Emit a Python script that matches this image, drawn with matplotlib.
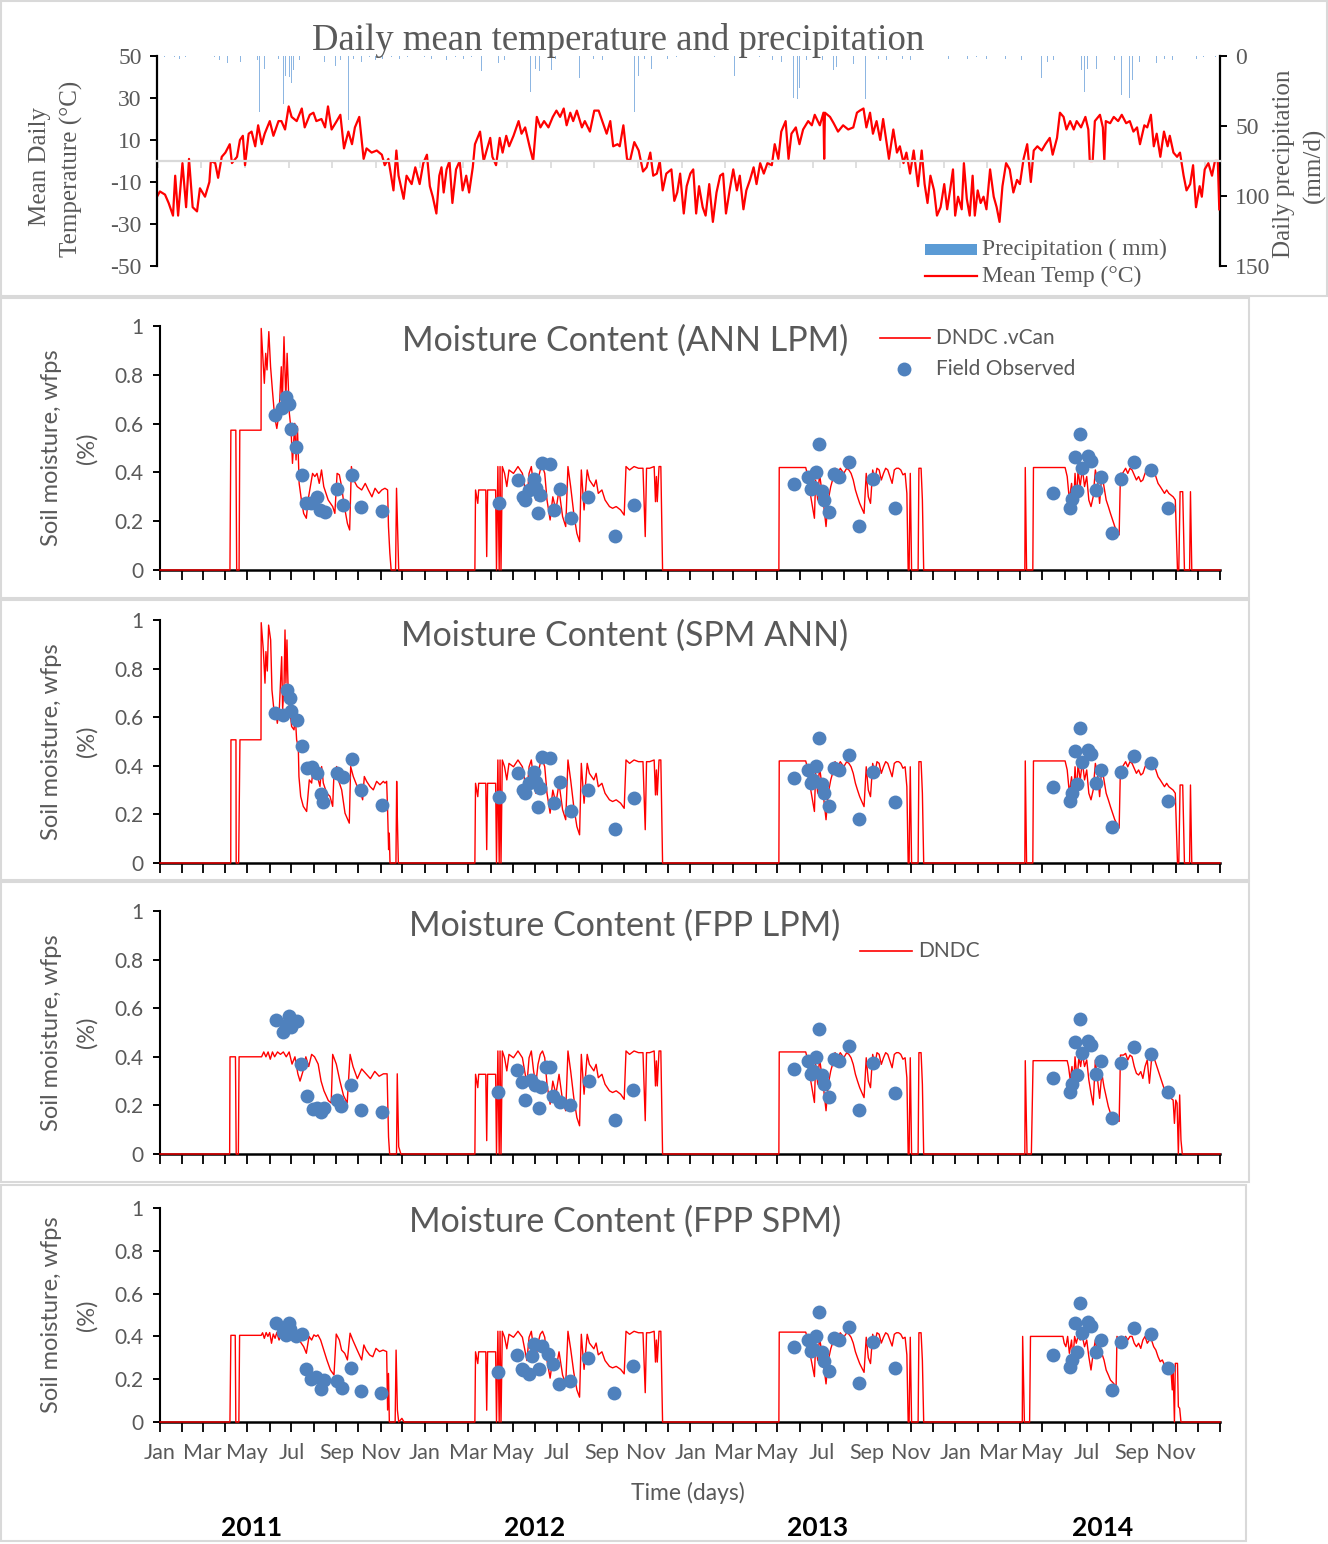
import numpy as np
import matplotlib.pyplot as plt
from matplotlib.patches import Rectangle
from matplotlib.lines import Line2D

plt.rcParams['font.family'] = ['Lato', 'DejaVu Sans']
SERIF = ['Liberation Serif', 'DejaVu Serif']
GREY = '#595959'
RED = '#FF0000'
BLUE = '#4F81BD'
W, H = 1328, 1544

# ---------------- data (days counted from 1 Jan 2011) ----------------
temp_day = [0, 4, 11, 16, 22, 25, 29, 35, 40, 44, 49, 55, 59, 66, 72, 74, 80, 84, 89, 94,
            100, 103, 110, 114, 118, 121, 126, 130, 135, 139, 144, 148, 155, 160, 167, 171, 176, 181, 185, 192,
            199, 203, 210, 215, 219, 226, 231, 235, 240, 247, 252, 257, 263, 268, 272, 278, 284, 288, 295, 302,
            309, 313, 318, 325, 329, 332, 339, 343, 350, 355, 361,
            366, 371, 375, 379, 384, 388, 391, 394, 398, 402, 406, 411, 416, 420, 425, 429, 434, 437, 444, 449,
            453, 458, 461, 466, 471, 475, 480, 484, 490, 497, 501, 506, 512, 517, 522, 527, 532, 538, 544, 549,
            554, 559, 563, 568, 572, 577, 584, 588, 595, 601, 607, 613, 618, 623, 627, 633, 636, 641, 646, 650,
            656, 662, 668, 673, 678, 682, 687, 691, 695, 700, 707, 711, 715, 719, 724, 728,
            733, 737, 741, 745, 750, 754, 759, 764, 769, 774, 778, 782, 787, 792, 797, 801, 806, 810, 815, 820,
            824, 829, 834, 839, 845, 849, 854, 858, 864, 868, 872, 878, 883, 888, 895, 900, 904, 911, 916, 917,
            918, 925, 930, 936, 943, 950, 957, 962, 966, 971, 975, 980, 984, 989, 994, 998, 1003, 1006, 1012, 1017,
            1021, 1026, 1030, 1035, 1040, 1046, 1051, 1055, 1059, 1063, 1068, 1072, 1077, 1082, 1086,
            1090, 1094, 1097, 1101, 1106, 1109, 1113, 1117, 1121, 1124, 1128, 1132, 1136, 1140, 1145, 1150, 1154, 1158, 1162, 1167,
            1172, 1177, 1182, 1186, 1191, 1196, 1201, 1205, 1210, 1216, 1221, 1227, 1231, 1237, 1241, 1246, 1250, 1255, 1260, 1264,
            1270, 1276, 1280, 1282, 1286, 1289, 1296, 1300, 1302, 1304, 1310, 1315, 1321, 1326, 1332, 1337, 1342, 1347, 1351, 1357,
            1361, 1366, 1370, 1374, 1379, 1384, 1389, 1392, 1397, 1402, 1406, 1411, 1415, 1420, 1424, 1428, 1433, 1436, 1440, 1445,
            1450, 1454, 1458, 1460]
temp_val = [-17, -14.5, -16, -20, -26, -7, -26, -1, -22, 1, -22, -24, -13, -17, -10, 0, -1, -8, 2, 4,
            8, -1, 2, 10, 12, -2, 13, 14, 7, 17, 8, 13, 19, 12, 19, 19, 15, 26, 21, 19,
            25, 16, 22, 23, 19, 20, 16, 26, 15, 19, 22, 6, 14, 8, 16, 21, 1, 6, 4, 5,
            3, -2, 1, -14, 5, -7, -18, -7, -11, -3, -11,
            -1, 3, -12, -17, -25, -7, -3, -15, -4, 0, -20, -4, 0, -14, -7, -15, -3, 8, 14, 0,
            5, 11, 2, -2, 11, 4, 12, 7, 12, 19, 13, 16, 7, 0, 21, 16, 19, 16, 21, 24,
            21, 25, 17, 23, 19, 24, 16, 19, 14, 24, 24, 18, 13, 19, 7, 8, 7, 17, 1, 0,
            9, 5, -5, -3, 4, -7, -6, 0, -14, -6, -4, -19, -15, -6, -25, -12,
            -6, -4, -25, -12, -22, -26, -11, -29, -15, -7, -6, -25, -14, -4, -14, -7, -23, -14, -9, -3,
            -11, -1, -6, -1, -2, 8, 1, 14, 19, 1, 13, 16, 8, 15, 19, 17, 22, 17, 23, 1,
            23, 21, 18, 14, 17, 15, 16, 23, 24, 25, 16, 23, 13, 19, 10, 20, 8, 1, 15, 4,
            7, -1, 4, -6, 5, -12, 5, -11, -20, -7, -14, -26, -22, -11, -23,
            -14, -4, -26, -17, -23, -1, -18, -26, -7, -26, -14, -20, -17, -23, -4, -17, -22, -29, -12, -1,
            -4, -15, -9, -11, 1, 8, -10, 5, 7, 5, 8, 11, 3, 11, 23, 21, 15, 19, 15, 19,
            16, 21, 15, 0, 0, 19, 22, 16, 0, 19, 18, 21, 19, 22, 18, 19, 14, 16, 8, 17,
            16, 22, 7, 13, 2, 14, 7, 12, 4, 2, 4, -7, -14, -11, -2, -22, -12, -17, -4, -1,
            -7, 0, 0, -23]

rain_day = [92, 97, 103, 110, 121, 128, 132, 141, 148, 151, 158, 162, 174, 177, 182, 185, 188, 245, 263,
            446, 451, 469, 474, 485, 499, 506, 513, 520, 526, 533, 542, 554, 572, 581, 591, 646, 656, 662, 680,
            778, 794, 870, 875, 880, 883, 907, 925, 930, 934, 947, 957, 974, 984, 1017, 1053,
            1200, 1211, 1216, 1241, 1255, 1263, 1266, 1271, 1275, 1279, 1291, 1300, 1326, 1329, 1333, 1337,
            1341, 1344, 1358, 1374, 1429]
rain_mm = [17, 5, 6, 5, 5, 15, 6, 40, 9, 12, 6, 8, 34, 14, 15, 19, 10, 7, 46,
           11, 6, 5, 6, 8, 5, 8, 26, 9, 11, 30, 10, 6, 9, 16, 8, 9, 40, 14, 9,
           4, 14, 24, 30, 31, 23, 29, 9, 10, 8, 18, 6, 31, 8, 5, 4,
           5, 9, 16, 6, 6, 22, 12, 10, 26, 9, 9, 8, 28, 14, 24, 30,
           17, 8, 6, 5, 2]
drizzle_day = [3, 10, 18, 24, 31, 39, 47, 55, 63, 70, 79, 86, 115, 138, 167, 196, 205, 213, 221, 230,
               238, 252, 270, 281, 292, 300, 310, 322, 333, 344, 352, 368, 377, 389, 398, 410, 421, 432, 440, 459,
               478, 492, 510, 529, 548, 562, 587, 600, 612, 624, 635, 670, 690, 702, 714, 727, 741, 752, 766, 785,
               803, 815, 828, 846, 858, 893, 899, 915, 940, 965, 992, 1003, 1025, 1036, 1046, 1064, 1075, 1088, 1102, 1114,
               1126, 1140, 1152, 1166, 1178, 1188, 1224, 1232, 1248, 1285, 1307, 1316, 1350, 1365, 1385, 1396, 1410, 1438, 1447, 1455]
drizzle_mm = [2, 1, 3, 1, 2, 1, 2, 3, 1, 2, 1, 3, 4, 3, 2, 3, 4, 2, 3, 4,
              2, 3, 2, 4, 1, 3, 2, 1, 2, 1, 2, 1, 2, 1, 3, 1, 2, 1, 3, 4,
              3, 4, 4, 3, 2, 4, 3, 2, 3, 2, 3, 2, 1, 2, 1, 2, 1, 2, 1, 2,
              1, 2, 1, 3, 4, 3, 4, 3, 4, 3, 2, 3, 2, 3, 1, 2, 1, 2, 1, 2,
              1, 2, 1, 2, 1, 3, 4, 3, 4, 3, 4, 3, 4, 3, 2, 3, 2, 1, 2, 1]

# simulated WFPS, season 2011, one series per model
sim11_ann_lpm_day = [0, 96.4, 97.7, 104.5, 105.7, 109, 110, 139.3, 139.5, 143.8, 145.7, 147.5, 150, 152.4, 154.9, 158, 161, 164.1,
                     167.2, 168.4, 170.9, 173.4, 175.2, 178.3, 180.7, 182.6, 185.7, 187.5, 189.4, 191.8, 194.9, 198, 201.7,
                     204.1, 207.2, 210.3, 213.4, 216.4, 219.5, 222.6, 225.7, 231.8, 238, 241, 244.1, 247.2, 250.3, 253.4,
                     258.3, 261.4, 263.8, 266.9, 271.8, 278, 282.9, 287.2, 292.1, 296.4, 301.4, 305.7, 310, 313.7, 314.9,
                     316.8, 318.6, 324.7, 326, 327.2, 329]
sim11_ann_lpm_val = [0, 0, 0.573, 0.573, 0, 0, 0.573, 0.573, 0.99, 0.765, 0.888, 0.82, 0.977, 0.833, 0.738, 0.628, 0.58, 0.642,
                     0.833, 0.656, 0.956, 0.697, 0.888, 0.642, 0.573, 0.437, 0.601, 0.451, 0.587, 0.355, 0.287, 0.232, 0.212,
                     0.287, 0.342, 0.396, 0.383, 0.396, 0.355, 0.41, 0.342, 0.287, 0.26, 0.232, 0.396, 0.39, 0.342, 0.273,
                     0.191, 0.164, 0.424, 0.369, 0.342, 0.328, 0.355, 0.328, 0.3, 0.335, 0.314, 0.328, 0.335, 0.328, 0.178,
                     0.069, 0, 0, 0.335, 0.205, 0]
sim11_spm_ann_day = [0, 97.5, 97.8, 104.7, 105, 108.4, 110.2, 139.2, 139.5, 142.4, 144.7, 146, 147.9, 149.7, 152.5, 154.3, 157,
                     159.9, 161.7, 164.4, 167.7, 169, 170.9, 172.3, 173.6, 175, 176.9, 179.1, 181.4, 184.7, 186.5, 188.3,
                     190.6, 191.5, 193.9, 197.5, 202.1, 205.8, 209, 211.3, 213.6, 215.9, 218.2, 220.5, 222.8, 225.1, 229.7,
                     234.3, 238, 239.8, 243.5, 245.8, 250.4, 255, 260.9, 262.8, 266.4, 271, 275.6, 279.3, 281.6, 284.8,
                     289.4, 294, 298.6, 303.2, 307.8, 310.1, 312.4, 313.8, 315.1, 316, 317, 325.2, 326.2, 327.1, 328.5]
sim11_spm_ann_val = [0, 0, 0.507, 0.507, 0, 0, 0.507, 0.507, 0.989, 0.877, 0.74, 0.87, 0.79, 0.979, 0.918, 0.712, 0.63,
                     0.616, 0.575, 0.63, 0.849, 0.63, 0.726, 0.959, 0.74, 0.918, 0.671, 0.63, 0.562, 0.548, 0.603, 0.507,
                     0.479, 0.356, 0.274, 0.233, 0.212, 0.342, 0.329, 0.397, 0.37, 0.384, 0.342, 0.315, 0.397, 0.329, 0.288,
                     0.274, 0.233, 0.37, 0.397, 0.342, 0.301, 0.205, 0.164, 0.397, 0.356, 0.321, 0.301, 0.26, 0.356, 0.336,
                     0.315, 0.301, 0.336, 0.322, 0.336, 0.329, 0.336, 0.205, 0.055, 0.123, 0, 0, 0.336, 0.192, 0]
sim11_fpp_lpm_day = [0, 96, 96.5, 104, 105, 108, 109, 140, 143, 146, 149, 152, 155, 158, 162, 166, 170, 174, 178, 182,
                     186, 190, 193, 197, 201, 205, 209, 213, 218, 222, 226, 232, 236, 238, 243, 248, 253, 258, 262, 266,
                     272, 278, 284, 290, 296, 302, 308, 313, 315, 316.5, 326, 327, 329, 332]
sim11_fpp_lpm_val = [0, 0, 0.40, 0.40, 0, 0, 0.40, 0.40, 0.42, 0.40, 0.42, 0.39, 0.42, 0.40, 0.42, 0.41, 0.42, 0.40, 0.42, 0.37,
                     0.40, 0.33, 0.30, 0.34, 0.40, 0.36, 0.41, 0.40, 0.37, 0.30, 0.26, 0.22, 0.21, 0.41, 0.37, 0.30, 0.24, 0.21, 0.41, 0.36,
                     0.31, 0.35, 0.33, 0.31, 0.34, 0.32, 0.33, 0.33, 0.07, 0, 0, 0.33, 0.03, 0]
sim11_fpp_spm_day = [0, 96.4, 97.7, 103.7, 104.5, 108.7, 109.7, 139.5, 141.4, 143.8, 146.3, 148.7, 151.2, 153.7, 156.1, 158.6,
                     161, 164.1, 167.2, 173.4, 179.5, 185.7, 191.8, 198, 201.7, 205.4, 209, 212.1, 215.2, 217.7, 221.4, 225.7,
                     230, 234.9, 239.8, 242.9, 247.2, 250.3, 254.6, 258.3, 262, 265.7, 271.8, 278, 281, 284.1, 289, 293.3,
                     297.7, 302.6, 307.5, 312.4, 313.7, 314.9, 316.1, 324.1, 325.4, 327.2, 329, 333.4, 336.4]
sim11_fpp_spm_val = [0, 0, 0.405, 0.405, 0, 0, 0.405, 0.405, 0.417, 0.391, 0.418, 0.4, 0.418, 0.368, 0.411, 0.391,
                     0.418, 0.383, 0.411, 0.407, 0.4, 0.4, 0.383, 0.352, 0.321, 0.4, 0.383, 0.407, 0.4, 0.407, 0.383, 0.336,
                     0.29, 0.243, 0.22, 0.411, 0.383, 0.336, 0.321, 0.29, 0.415, 0.383, 0.336, 0.29, 0.36, 0.336, 0.313, 0.305,
                     0.344, 0.329, 0.336, 0.329, 0.056, 0.227, 0, 0, 0.336, 0.056, 0, 0.017, 0]

# seasons 2012 and 2013 (same in all four runs)
sim12_day = [434, 434.9, 438, 439.2, 449, 450.3, 451.5, 462.6, 463.8, 465.7, 467.5, 468.7, 470, 471.8, 474.9, 478, 481,
             487.2, 493.4, 499.5, 505.7, 508.7, 511.8, 514.9, 518, 521, 524.1, 527.2, 530.3, 533.4, 537.7, 541.4, 545.7,
             550, 554.9, 559.2, 562.3, 566, 570.3, 574.6, 578.3, 580.7, 584.5, 588.8, 591.8, 598, 601.1, 604.1, 609.1,
             613.4, 619.5, 623.8, 628.8, 634.9, 639.8, 642.3, 647.2, 653.4, 659.5, 665.7, 668.8, 670.6, 674.9, 681.1,
             682.9, 684.2, 685.4, 687.8, 690.3, 692.7]
sim12_val = [0, 0.328, 0.273, 0.328, 0.328, 0.055, 0.328, 0.328, 0, 0.424, 0, 0.424, 0, 0.424, 0.396, 0.342, 0.41,
             0.396, 0.424, 0.396, 0.287, 0.396, 0.424, 0.342, 0.287, 0.369, 0.41, 0.424, 0.396, 0.287, 0.205, 0.3, 0.246,
             0.328, 0.219, 0.178, 0.424, 0.342, 0.232, 0.15, 0.116, 0.41, 0.246, 0.41, 0.369, 0.342, 0.369, 0.314, 0.328,
             0.287, 0.26, 0.253, 0.26, 0.246, 0.225, 0.424, 0.41, 0.424, 0.417, 0.417, 0.137, 0.417, 0.417, 0.424,
             0.28, 0.383, 0.28, 0.424, 0.424, 0]
sim13_day = [853, 853.5, 890, 893, 897, 902, 903.6, 906.6, 909, 912.6, 915, 918, 921, 924.5, 927, 930.4, 934.6, 937.6,
             942.4, 946.5, 949.5, 952.5, 955.5, 958.5, 961.4, 964.4, 967.4, 970.4, 973.4, 976.3, 979.3, 982.3, 985.3,
             988.2, 991.2, 994.2, 997.2, 1000.2, 1003.1, 1006.1, 1009.1, 1012.1, 1015.1, 1018, 1021, 1024, 1027, 1029.4,
             1031.2, 1032.5, 1034.1, 1035.9, 1044.9, 1046, 1049, 1050.8, 1052.6]
sim13_val = [0, 0.42, 0.42, 0.383, 0.3, 0.212, 0.369, 0.287, 0.396, 0.314, 0.26, 0.178, 0.287, 0.342, 0.369, 0.417, 0.396,
             0.417, 0.396, 0.417, 0.41, 0.396, 0.369, 0.328, 0.3, 0.273, 0.253, 0.232, 0.396, 0.3, 0.273, 0.41, 0.369,
             0.417, 0.41, 0.369, 0.396, 0.417, 0.41, 0.383, 0.355, 0.41, 0.417, 0.417, 0.41, 0.39, 0.396, 0.314,
             0, 0, 0.396, 0, 0, 0.417, 0.417, 0.287, 0]

# season 2014
sim14_ann_day = [1192, 1192.6, 1194.4, 1203, 1203.9, 1247.5, 1250.4, 1253.4, 1256.4, 1259.4, 1261.2, 1263.6, 1265.3, 1268.3,
                 1271.3, 1274.3, 1277.3, 1280.2, 1283.2, 1286.2, 1289.2, 1292.2, 1295.1, 1298.1, 1301.1, 1304.1, 1307.1,
                 1310, 1313, 1316, 1322, 1323.8, 1326.7, 1330.9, 1333.9, 1336.9, 1339.8, 1342.8, 1345.8, 1348.8, 1351.8,
                 1354.7, 1357.7, 1360.7, 1363.7, 1366.6, 1369.6, 1372.6, 1375.6, 1378.6, 1381.5, 1384.5, 1387.5, 1390.5,
                 1393.5, 1396.4, 1399.4, 1402.4, 1404.2, 1406, 1409.6, 1412, 1419.1, 1420.3, 1422.1, 1461]
sim14_ann_val = [0, 0.42, 0, 0, 0.42, 0.42, 0.383, 0.287, 0.355, 0.273, 0.396, 0.287, 0.41, 0.342,
                 0.417, 0.342, 0.383, 0.287, 0.26, 0.3, 0.41, 0.369, 0.273, 0.396, 0.342, 0.287, 0.26,
                 0.232, 0.205, 0.178, 0.144, 0.396, 0.396, 0.417, 0.396, 0.417, 0.41, 0.39, 0.369, 0.383, 0.362,
                 0.369, 0.396, 0.417, 0.41, 0.396, 0.41, 0.383, 0.355, 0.342, 0.328, 0.314, 0.328, 0.314,
                 0.307, 0.3, 0.287, 0, 0, 0.321, 0.321, 0, 0, 0.321, 0, 0]
sim14_fpp_lpm_day = [1192, 1192.6, 1195, 1201, 1203.4, 1250.4, 1252.2, 1254.6, 1257, 1259.4, 1261.2, 1264.1, 1266.5, 1268.9,
                     1271.3, 1274.3, 1277.3, 1280.2, 1283.2, 1286.2, 1289.2, 1292.2, 1295.1, 1298.1, 1301.1, 1304.1, 1307.1,
                     1310, 1316, 1322, 1323.8, 1327.9, 1330.9, 1333.9, 1336.9, 1339.8, 1342.8, 1345.8, 1348.8, 1351.8,
                     1354.7, 1357.7, 1360.7, 1363.7, 1366.6, 1369.6, 1372.6, 1375.6, 1378.6, 1381.5, 1384.5, 1387.5,
                     1390.5, 1393.5, 1396.4, 1398.2, 1400, 1401.8, 1403.6, 1405.4, 1407.2, 1409, 1461]
sim14_fpp_lpm_val = [0, 0.384, 0, 0, 0.384, 0.384, 0.36, 0.305, 0.36, 0.291, 0.4, 0.305, 0.4, 0.36,
                     0.414, 0.36, 0.387, 0.305, 0.25, 0.202, 0.387, 0.305, 0.229, 0.332, 0.277, 0.236, 0.195,
                     0.168, 0.147, 0.134, 0.407, 0.407, 0.414, 0.387, 0.407, 0.4, 0.36, 0.332, 0.325, 0.339,
                     0.311, 0.36, 0.387, 0.291, 0.387, 0.4, 0.373, 0.346, 0.318, 0.291, 0.264, 0.25,
                     0.236, 0.229, 0.222, 0.126, 0.222, 0.209, 0, 0.243, 0.058, 0, 0]
sim14_fpp_spm_day = [1188.5, 1189, 1191.4, 1198.6, 1199.8, 1244.5, 1246.3, 1248.6, 1251, 1253.4, 1256.4, 1258.2, 1260.6,
                     1262.9, 1265.3, 1268.3, 1271.3, 1274.3, 1277.3, 1280.2, 1283.2, 1286.2, 1289.2, 1292.2, 1295.1, 1298.1,
                     1301.1, 1304.1, 1307.1, 1310, 1314.2, 1317.8, 1319, 1322, 1325, 1327.9, 1330.9, 1333.9, 1336.9, 1339.8,
                     1342.8, 1345.8, 1348.8, 1351.8, 1354.7, 1357.7, 1360.7, 1363.7, 1366.6, 1369.6, 1372.6, 1375.6, 1378.6,
                     1381.5, 1384.5, 1387.5, 1390.5, 1393.5, 1395.2, 1396.4, 1398.2, 1399.4, 1402.4, 1403.6, 1405.4, 1407.2, 1461]
sim14_fpp_spm_val = [0, 0.4, 0, 0, 0.4, 0.4, 0.368, 0.352, 0.4, 0.321, 0.383, 0.29, 0.4,
                     0.368, 0.4, 0.383, 0.4, 0.352, 0.383, 0.305, 0.243, 0.321, 0.383, 0.321, 0.368, 0.321,
                     0.29, 0.243, 0.22, 0.196, 0.181, 0.165, 0.4, 0.383, 0.4, 0.352, 0.4, 0.383, 0.4, 0.4,
                     0.368, 0.352, 0.368, 0.344, 0.383, 0.4, 0.368, 0.383, 0.383, 0.352, 0.336, 0.305, 0.282,
                     0.29, 0.266, 0.259, 0.251, 0.235, 0.15, 0.243, 0, 0.274, 0.274, 0.072, 0.064, 0, 0]

# field observations
obs11_ann_lpm_day = [159, 168, 173, 178, 180, 188, 196, 201, 208, 216, 221, 227, 244, 252, 264, 277, 306]
obs11_ann_lpm_val = [0.635, 0.662, 0.707, 0.68, 0.576, 0.503, 0.39, 0.273, 0.276, 0.298, 0.246, 0.236, 0.332, 0.266, 0.39, 0.26, 0.243]
obs11_spm_ann_day = [158.5, 170, 174.6, 179.1, 180.5, 188.3, 195.2, 202.1, 209.9, 215.9, 221.9, 225.1, 243.5, 251.7, 264.1, 277, 306.4]
obs11_spm_ann_val = [0.616, 0.61, 0.71, 0.678, 0.627, 0.589, 0.482, 0.39, 0.397, 0.37, 0.284, 0.253, 0.37, 0.353, 0.427, 0.299, 0.24]
obs11_fpp_lpm_day = [160, 170, 174, 178, 181, 189, 194, 203, 211, 216, 222, 226, 244, 250, 263, 277, 306]
obs11_fpp_lpm_val = [0.551, 0.502, 0.531, 0.568, 0.523, 0.547, 0.37, 0.239, 0.185, 0.189, 0.173, 0.189, 0.222, 0.198, 0.284, 0.181, 0.173]
obs11_fpp_spm_day = [159.2, 169, 173.4, 178.3, 179.5, 187.5, 195.5, 201.7, 208.4, 215.2, 221.4, 226.3, 244.1, 250.9, 263.8, 276.7, 304.4]
obs11_fpp_spm_val = [0.461, 0.422, 0.407, 0.464, 0.433, 0.4, 0.411, 0.25, 0.2, 0.208, 0.152, 0.196, 0.192, 0.16, 0.254, 0.146, 0.137]
obs12_ann_day = [466.9, 493.4, 500.8, 502.6, 508.7, 514.9, 518, 521, 524.1, 527.2, 537.7, 542.6, 551.8, 566, 590.6, 627.5, 653.4]
obs12_ann_val = [0.273, 0.369, 0.3, 0.287, 0.328, 0.375, 0.335, 0.232, 0.307, 0.437, 0.434, 0.246, 0.332, 0.214, 0.3, 0.139, 0.266]
obs12_fpp_lpm_day = [466, 492, 499, 503, 511, 517, 522, 525, 532, 538, 542, 551, 565, 591, 627, 652]
obs12_fpp_lpm_val = [0.255, 0.346, 0.296, 0.222, 0.305, 0.284, 0.189, 0.276, 0.358, 0.358, 0.239, 0.214, 0.202, 0.3, 0.14, 0.263]
obs12_fpp_spm_day = [465.7, 491.5, 498.3, 500.8, 508.7, 513, 514.9, 522.3, 526, 535.2, 541.4, 550, 564.8, 589.4, 626.3, 652.1]
obs12_fpp_spm_val = [0.233, 0.313, 0.25, 0.243, 0.224, 0.308, 0.364, 0.249, 0.355, 0.318, 0.271, 0.179, 0.192, 0.297, 0.137, 0.262]
obs13_day = [873.8, 892.9, 897.1, 900.6, 904.8, 907.8, 912.6, 915.5, 921.5, 928.7, 936.4, 949.5, 963.2, 982.3, 1012.7]
obs13_val = [0.351, 0.383, 0.331, 0.342, 0.4, 0.516, 0.325, 0.287, 0.236, 0.393, 0.383, 0.444, 0.182, 0.373, 0.253]
obs14_day = [1230.2, 1254.6, 1257.6, 1261.8, 1264.1, 1268.3, 1271.3, 1278.4, 1283.8, 1290.4, 1296.9, 1312.4, 1324.3, 1342.8, 1366, 1389.9]
obs14_val = [0.314, 0.256, 0.289, 0.462, 0.325, 0.556, 0.417, 0.467, 0.448, 0.328, 0.383, 0.15, 0.373, 0.441, 0.411, 0.254]

month_names = ['Jan', 'Feb', 'Mar', 'Apr', 'May', 'Jun', 'Jul', 'Aug', 'Sep', 'Oct', 'Nov', 'Dec']
years = ['2011', '2012', '2013', '2014']


def fx(px):
    return px / W


def fy(py):
    return 1 - py / H


fig = plt.figure(figsize=(W / 100, H / 100), dpi=100)

# grey frames around the five charts
for x0, y0, x1, y1 in [(1, 1, 1327, 296), (1, 298, 1249, 598), (1, 600, 1249, 880),
                       (1, 882, 1249, 1182), (1, 1185, 1246, 1541)]:
    fig.add_artist(Rectangle((fx(x0), fy(y1)), fx(x1) - fx(x0), fy(y0) - fy(y1),
                             transform=fig.transFigure, fill=False, ec='#D9D9D9', lw=1.5))

# ---------------- top chart: temperature + precipitation ----------------
ax = fig.add_axes([fx(157), fy(266), (1220 - 157) / W, 210 / H])
ax2 = ax.twinx()
ax2.bar(rain_day + drizzle_day, rain_mm + drizzle_mm, width=0.8, color='#8DB6E2', lw=0)
ax2.set_ylim(150, 0)
ax.plot(temp_day, temp_val, color=RED, lw=1.6)
ax.set_zorder(ax2.get_zorder() + 1)
ax.patch.set_visible(False)
ax.set_xlim(0, 1461)
ax.set_ylim(-50, 50)
ax2.set_xlim(0, 1461)

ax.set_yticks([50, 30, 10, -10, -30, -50], labels=['50', '30', '10', '-10', '-30', '-50'],
              family=SERIF, fontsize=17, color=GREY)
ax2.set_yticks([0, 50, 100, 150], labels=['0', '50', '100', '150'], family=SERIF, fontsize=17, color=GREY)
for s in ['top', 'right']:
    ax.spines[s].set_visible(False)
for s in ['top', 'left', 'bottom']:
    ax2.spines[s].set_visible(False)
ax.spines['left'].set_linewidth(1.6)
ax2.spines['right'].set_linewidth(1.6)
ax.spines['bottom'].set_position(('data', 0))
ax.spines['bottom'].set_color('#D9D9D9')
ax.spines['bottom'].set_linewidth(1.6)
ax.set_xticks(np.arange(1, 1461, 60), labels=[])
ax.tick_params(axis='x', colors='#D9D9D9', length=5, width=1.2)
ax.tick_params(axis='y', length=5, width=1.4, pad=6)
ax2.tick_params(axis='y', length=5, width=1.4, pad=6)

fig.text(fx(618), fy(40), 'Daily mean temperature and precipitation', family=SERIF, size=26.5,
         color=GREY, ha='center', va='center')
fig.text(fx(40), fy(167), 'Mean Daily', family=SERIF, size=18, color=GREY, rotation=90,
         ha='center', va='center')
fig.text(fx(71), fy(169), 'Temperature (°C)', family=SERIF, size=18, color=GREY, rotation=90,
         ha='center', va='center')
fig.text(fx(1284), fy(164), 'Daily precipitation', family=SERIF, size=18, color=GREY, rotation=90,
         ha='center', va='center')
fig.text(fx(1314), fy(165), '(mm/d)', family=SERIF, size=18, color=GREY, rotation=90,
         ha='center', va='center')

fig.add_artist(Rectangle((fx(925), fy(255)), fx(977) - fx(925), fy(244) - fy(255),
                         transform=fig.transFigure, color='#5B9BD5', lw=0))
fig.text(fx(982), fy(249), 'Precipitation ( mm)', family=SERIF, size=17, color=GREY, va='center')
fig.add_artist(Line2D([fx(925), fx(977)], [fy(276), fy(276)], transform=fig.transFigure, color=RED, lw=1.6))
fig.text(fx(982), fy(276), 'Mean Temp (°C)', family=SERIF, size=17, color=GREY, va='center')

# ---------------- moisture charts ----------------
months = np.arange('2011-01', '2015-02', dtype='datetime64[M]')
month_ticks = (months.astype('datetime64[D]') - np.datetime64('2011-01-01')).astype(int)
month_labels = [month_names[i % 12] if (i % 2 == 0 and i < 48) else '' for i in range(len(month_ticks))]

panels = [
    dict(top=326, bot=570, title='Moisture Content (ANN LPM)', ty=341,
         sd=sim11_ann_lpm_day + sim12_day + sim13_day + sim14_ann_day,
         sv=sim11_ann_lpm_val + sim12_val + sim13_val + sim14_ann_val,
         od=obs11_ann_lpm_day + obs12_ann_day + obs13_day + obs14_day,
         ov=obs11_ann_lpm_val + obs12_ann_val + obs13_val + obs14_val),
    dict(top=620, bot=863, title='Moisture Content (SPM ANN)', ty=636,
         sd=sim11_spm_ann_day + sim12_day + sim13_day + sim14_ann_day,
         sv=sim11_spm_ann_val + sim12_val + sim13_val + sim14_ann_val,
         od=obs11_spm_ann_day + obs12_ann_day + obs13_day + obs14_day,
         ov=obs11_spm_ann_val + obs12_ann_val + obs13_val + obs14_val),
    dict(top=911, bot=1154, title='Moisture Content (FPP LPM)', ty=926,
         sd=sim11_fpp_lpm_day + sim12_day + sim13_day + sim14_fpp_lpm_day,
         sv=sim11_fpp_lpm_val + sim12_val + sim13_val + sim14_fpp_lpm_val,
         od=obs11_fpp_lpm_day + obs12_fpp_lpm_day + obs13_day + obs14_day,
         ov=obs11_fpp_lpm_val + obs12_fpp_lpm_val + obs13_val + obs14_val),
    dict(top=1208, bot=1422, title='Moisture Content (FPP SPM)', ty=1222,
         sd=sim11_fpp_spm_day + sim12_day + sim13_day + sim14_fpp_spm_day,
         sv=sim11_fpp_spm_val + sim12_val + sim13_val + sim14_fpp_spm_val,
         od=obs11_fpp_spm_day + obs12_fpp_spm_day + obs13_day + obs14_day,
         ov=obs11_fpp_spm_val + obs12_fpp_spm_val + obs13_val + obs14_val),
]

for i, p in enumerate(panels):
    a = fig.add_axes([fx(160), fy(p['bot']), 1060 / W, (p['bot'] - p['top']) / H])
    a.plot(p['sd'], p['sv'], color=RED, lw=1.0, zorder=3, clip_on=False)
    a.plot(p['od'], p['ov'], 'o', color=BLUE, ms=10, mec='none', zorder=4)
    a.set_xlim(0, 1461)
    a.set_ylim(0, 1)
    for s in ['top', 'right']:
        a.spines[s].set_visible(False)
    a.spines['left'].set_linewidth(1.5)
    a.spines['bottom'].set_linewidth(1.8)
    a.set_yticks([0, 0.2, 0.4, 0.6, 0.8, 1], labels=['0', '0.2', '0.4', '0.6', '0.8', '1'],
                 fontsize=15, color=GREY)
    a.tick_params(axis='y', length=5, width=1.4, pad=7)
    a.set_xticks(month_ticks, labels=month_labels if i == 3 else [])
    a.tick_params(axis='x', length=7, width=1.3, pad=8, labelsize=15.5, labelcolor=GREY)

    mid = (p['top'] + p['bot']) / 2
    fig.text(fx(52), fy(mid), 'Soil moisture, wfps', size=17, color=GREY, rotation=90, ha='center', va='center')
    fig.text(fx(87), fy(mid), '(%)', size=17, color=GREY, rotation=90, ha='center', va='center')
    fig.text(fx(625), fy(p['ty']), p['title'], size=24.5, color=GREY, ha='center', va='center')

# legends
fig.add_artist(Line2D([fx(880), fx(930)], [fy(338), fy(338)], transform=fig.transFigure, color=RED, lw=1.2))
fig.text(fx(936), fy(338), 'DNDC .vCan', size=15, color=GREY, va='center')
fig.add_artist(Line2D([fx(904)], [fy(369)], transform=fig.transFigure, marker='o', color=BLUE, ms=10, mec='none'))
fig.text(fx(936), fy(369), 'Field Observed', size=15, color=GREY, va='center')
fig.add_artist(Line2D([fx(860), fx(912)], [fy(951), fy(951)], transform=fig.transFigure, color=RED, lw=1.2))
fig.text(fx(918), fy(951), 'DNDC', size=15, color=GREY, va='center')

fig.text(fx(688), fy(1493), 'Time (days)', size=16.5, color=GREY, ha='center', va='center')
for yr, xp in zip(years, [252, 535, 818, 1103]):
    fig.text(fx(xp), fy(1528), yr, size=19, weight='bold', color='black', ha='center', va='center')

fig.savefig('out.png', dpi=100)
